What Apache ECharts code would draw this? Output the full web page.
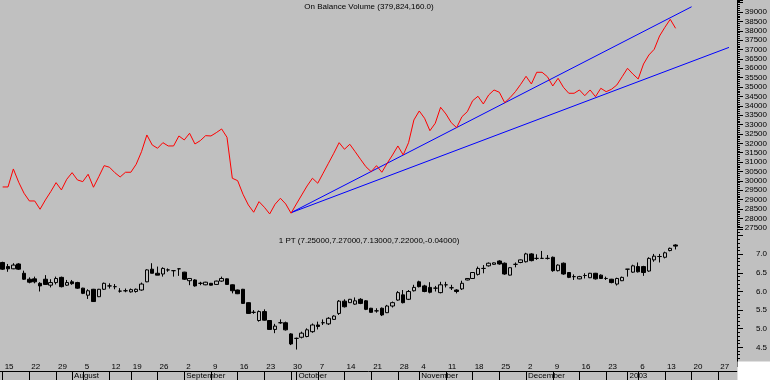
<!DOCTYPE html>
<html><head><meta charset="utf-8">
<script src="https://cdn.jsdelivr.net/npm/echarts@6/dist/echarts.min.js"></script>
<style>html,body{margin:0;padding:0;background:#c0c0c0}#c{width:770px;height:380px}</style>
</head><body><div id="c"></div>
<script>
const categories = [
'2002-07-15','2002-07-16','2002-07-17','2002-07-18','2002-07-19',
'2002-07-22','2002-07-23','2002-07-24','2002-07-25','2002-07-26',
'2002-07-29','2002-07-30','2002-07-31','2002-08-01','2002-08-02',
'2002-08-05','2002-08-06','2002-08-07','2002-08-08','2002-08-09',
'2002-08-12','2002-08-13','2002-08-14','2002-08-15',
'2002-08-19','2002-08-20','2002-08-21','2002-08-22','2002-08-23',
'2002-08-26','2002-08-27','2002-08-28','2002-08-29','2002-08-30',
'2002-09-02','2002-09-03','2002-09-04','2002-09-05','2002-09-06',
'2002-09-09','2002-09-10','2002-09-11','2002-09-12','2002-09-13',
'2002-09-16','2002-09-17','2002-09-18','2002-09-19','2002-09-20',
'2002-09-23','2002-09-24','2002-09-25','2002-09-26','2002-09-27',
'2002-09-30','2002-10-01','2002-10-02','2002-10-03','2002-10-04',
'2002-10-07','2002-10-08','2002-10-09','2002-10-10','2002-10-11',
'2002-10-14','2002-10-15','2002-10-16','2002-10-17','2002-10-18',
'2002-10-21','2002-10-22','2002-10-23','2002-10-24','2002-10-25',
'2002-10-28','2002-10-29','2002-10-30','2002-10-31',
'2002-11-04','2002-11-05','2002-11-06','2002-11-07','2002-11-08',
'2002-11-11','2002-11-12','2002-11-13','2002-11-14','2002-11-15',
'2002-11-18','2002-11-19','2002-11-20','2002-11-21','2002-11-22',
'2002-11-25','2002-11-26','2002-11-27','2002-11-28','2002-11-29',
'2002-12-02','2002-12-03','2002-12-04','2002-12-05','2002-12-06',
'2002-12-09','2002-12-10','2002-12-11','2002-12-12','2002-12-13',
'2002-12-16','2002-12-17','2002-12-18','2002-12-19','2002-12-20',
'2002-12-23','2002-12-24','2002-12-26','2002-12-27',
'2003-01-02','2003-01-03',
'2003-01-06','2003-01-07','2003-01-08','2003-01-09','2003-01-10',
'2003-01-13','2003-01-14','2003-01-15','2003-01-16','2003-01-17',
'2003-01-20','2003-01-21','2003-01-22','2003-01-23','2003-01-24',
'2003-01-27','2003-01-28','2003-01-29','2003-01-30'
];
const monthLabels = {'08':'August','09':'September','10':'October','11':'November','12':'December','01':'2003'};

// On Balance Volume (units of 10,000)
const obv = [
29672,29672,30632,29923,29337,28926,28926,28484,28980,29422,
29902,29513,30083,30435,30046,29955,30349,29657,30221,30808,
30723,30435,30205,30456,30456,30882,31554,32444,31911,31735,
32034,31858,31858,32391,32178,32535,31964,32140,32407,32391,
32567,32764,32322,30136,30008,29283,28713,28324,28889,28591,
28233,28750,29070,28766,28271,28766,29246,29726,30136,29870,
30403,30936,31469,32034,31682,31948,31554,31149,30754,30488,
30808,30456,30936,31378,31858,31378,32034,33244,33723,33334,
32673,33068,33921,33563,33100,32833,33419,33686,34272,34507,
34096,34576,34843,34720,34166,34432,34752,35146,35573,35162,
35786,35786,35551,35056,35466,34987,34667,34667,34843,34539,
34843,34485,34933,34752,34880,35109,35551,35999,35695,35429,
36228,36708,37012,37721,38185,38611,38131
];
const trendUpper = [[54, 28300], [129, 39280]];
const trendLower = [[54, 28300], [136, 37113]];

const opens = [
6.78,6.67,6.61,6.74,6.49,6.33,6.34,6.22,6.33,6.17,
6.24,6.38,6.17,6.26,6.24,6.09,5.90,6.06,5.86,6.06,
6.15,6.13,6.01,6.02,5.99,6.00,6.04,6.26,6.60,6.49,
6.47,6.58,6.56,6.61,6.52,6.29,6.31,6.22,6.18,6.22,
6.19,6.28,6.34,6.18,6.04,6.06,5.70,5.44,5.22,5.46,
5.22,4.98,5.16,5.16,4.86,4.74,4.77,4.79,4.92,5.10,
5.16,5.13,5.25,5.41,5.74,5.70,5.66,5.79,5.75,5.55,
5.48,5.55,5.43,5.61,5.77,5.91,5.79,6.02,6.26,6.15,
6.11,6.09,5.97,6.18,6.10,6.04,6.07,6.31,6.35,6.46,
6.62,6.69,6.73,6.82,6.76,6.44,6.73,6.78,6.80,7.01,
6.89,6.89,6.89,6.92,6.56,6.76,6.51,6.40,6.34,6.43,
6.37,6.49,6.44,6.35,6.33,6.20,6.29,6.60,6.52,6.67,
6.67,6.55,6.85,6.94,6.92,7.10,7.25
];
const highs = [
6.80,6.74,6.76,6.76,6.56,6.38,6.40,6.25,6.44,6.33,
6.40,6.40,6.31,6.31,6.26,6.10,6.06,6.07,6.07,6.24,
6.22,6.20,6.09,6.08,6.08,6.08,6.24,6.60,6.76,6.67,
6.65,6.62,6.56,6.61,6.53,6.35,6.33,6.26,6.26,6.23,
6.29,6.40,6.35,6.19,6.05,6.07,5.71,5.50,5.49,5.52,
5.23,5.13,5.25,5.19,4.88,4.76,4.92,5.01,5.14,5.19,
5.25,5.31,5.36,5.77,5.79,5.80,5.84,5.82,5.77,5.56,
5.55,5.57,5.64,5.73,6.01,6.04,6.04,6.18,6.29,6.18,
6.25,6.15,6.26,6.26,6.18,6.06,6.29,6.36,6.52,6.67,
6.71,6.78,6.78,6.84,6.78,6.65,6.78,6.86,7.04,7.03,
7.00,7.09,6.98,6.94,6.73,6.78,6.52,6.46,6.42,6.49,
6.50,6.50,6.46,6.40,6.34,6.37,6.40,6.60,6.72,6.78,
6.69,6.92,7.01,7.01,7.07,7.18,7.27
];
const lows = [
6.58,6.53,6.60,6.58,6.31,6.22,6.22,6.00,6.18,6.11,
6.19,6.11,6.15,6.18,6.07,5.93,5.80,5.72,5.85,6.04,
6.08,6.06,5.97,5.98,5.97,5.97,6.02,6.25,6.49,6.44,
6.40,6.53,6.40,6.42,6.31,6.17,6.13,6.17,6.17,6.16,
6.18,6.26,6.18,5.95,5.93,5.67,5.40,5.40,5.19,5.22,
4.97,4.88,5.13,4.95,4.56,4.44,4.74,4.77,4.89,4.98,
5.10,5.10,5.24,5.37,5.57,5.69,5.64,5.66,5.50,5.43,
5.43,5.34,5.42,5.57,5.75,5.68,5.77,6.00,6.11,5.98,
5.95,6.00,5.95,6.11,6.04,5.95,6.04,6.30,6.34,6.43,
6.49,6.67,6.72,6.72,6.45,6.43,6.65,6.76,6.78,6.81,
6.85,6.89,6.86,6.53,6.54,6.45,6.36,6.31,6.33,6.35,
6.36,6.32,6.34,6.31,6.22,6.16,6.28,6.40,6.50,6.51,
6.42,6.53,6.80,6.78,6.89,7.08,7.13
];
const closes = [
6.60,6.61,6.71,6.60,6.33,6.25,6.26,6.15,6.19,6.24,
6.35,6.13,6.24,6.21,6.09,5.95,6.02,5.73,6.06,6.22,
6.15,6.13,6.01,6.02,6.05,6.06,6.20,6.58,6.49,6.44,
6.62,6.58,6.56,6.61,6.33,6.35,6.15,6.22,6.25,6.17,
6.28,6.35,6.19,6.02,5.94,5.68,5.41,5.44,5.46,5.23,
4.98,5.07,5.16,4.97,4.59,4.74,4.88,4.97,5.10,5.06,
5.16,5.28,5.34,5.74,5.59,5.79,5.75,5.68,5.52,5.44,
5.48,5.37,5.61,5.70,5.97,5.70,6.00,6.11,6.13,6.00,
5.98,6.09,6.18,6.18,6.10,6.00,6.22,6.35,6.51,6.62,
6.62,6.76,6.77,6.74,6.47,6.64,6.73,6.85,7.01,6.83,
6.89,6.89,6.89,6.56,6.71,6.47,6.38,6.40,6.40,6.43,
6.49,6.34,6.35,6.35,6.24,6.35,6.38,6.60,6.69,6.53,
6.51,6.89,6.95,6.94,7.04,7.16,7.22
];

const candleData = opens.map((o, i) => [o, closes[i], lows[i], highs[i]]);
const isMonday = i => new Date(categories[i] + 'T00:00:00Z').getUTCDay() === 1;
const isMonthStart = i => i > 0 && categories[i].slice(5, 7) !== categories[i - 1].slice(5, 7);

const FONT = 'Liberation Sans, Arial, sans-serif';
const black = '#000';
const chart = echarts.init(document.getElementById('c'), null, {renderer: 'canvas'});
const yBase = {
  type: 'value', position: 'right', scale: true,
  axisLine: {show: true, lineStyle: {color: black, width: 1}},
  axisTick: {show: true, length: 6, lineStyle: {color: black}},
  minorTick: {show: true, splitNumber: 5, length: 3, lineStyle: {color: black}},
  splitLine: {show: false},
  axisLabel: {color: black, fontSize: 8, fontFamily: FONT, align: 'right', margin: 30, showMaxLabel: false}
};
chart.setOption({
  animation: false,
  backgroundColor: '#c0c0c0',
  textStyle: {fontFamily: FONT},
  title: [
    {text: 'On Balance Volume (379,824,160.0)', left: 369, top: 3, padding: 0, textAlign: 'center',
     textStyle: {fontSize: 8, fontWeight: 'normal', color: black, fontFamily: FONT}},
    {text: '1 PT (7.25000,7.27000,7.13000,7.22000,-0.04000)', left: 369, top: 237, padding: 0, textAlign: 'center',
     textStyle: {fontSize: 8, fontWeight: 'normal', color: black, fontFamily: FONT}}
  ],
  grid: [
    {left: 0, width: 737, top: 0, height: 227.7},
    {left: 0, width: 737, top: 229, height: 136.9},
    {left: 0, width: 737, top: 361, height: 10},
    {left: 0, width: 737, top: 371, height: 9}
  ],
  xAxis: [
    {type: 'category', gridIndex: 0, data: categories, show: false, boundaryGap: true},
    {type: 'category', gridIndex: 1, data: categories, show: false, boundaryGap: true},
    {type: 'category', gridIndex: 2, data: categories, position: 'top', boundaryGap: true,
     axisLine: {show: true, lineStyle: {color: black, width: 1}},
     axisTick: {show: true, inside: true, length: 10, alignWithLabel: true, interval: (i) => isMonday(i) || isMonthStart(i), lineStyle: {color: black}},
     axisLabel: {show: true, inside: true, interval: (i) => isMonday(i), align: 'left', verticalAlign: 'top', margin: 2, padding: [0, 0, 0, 2],
       color: black, fontSize: 8, fontFamily: FONT, formatter: (v) => String(parseInt(v.slice(8, 10), 10))},
     splitLine: {show: false}},
    {type: 'category', gridIndex: 3, data: categories, position: 'top', boundaryGap: true,
     axisLine: {show: true, lineStyle: {color: black, width: 1}},
     axisTick: {show: true, inside: true, length: 9, alignWithLabel: true, interval: (i) => isMonthStart(i), lineStyle: {color: black}},
     axisLabel: {show: true, inside: true, interval: (i) => isMonthStart(i), align: 'left', verticalAlign: 'top', margin: 1, padding: [0, 0, 0, 2],
       color: black, fontSize: 8, fontFamily: FONT, formatter: (v) => monthLabels[v.slice(5, 7)] || ''},
     splitLine: {show: false}}
  ],
  yAxis: [
    Object.assign({}, yBase, {gridIndex: 0, min: 27500, max: 39640, interval: 500,
      axisLabel: Object.assign({}, yBase.axisLabel, {showMinLabel: true, formatter: (v) => v > 39000 ? '' : String(Math.round(v))})}),
    Object.assign({}, yBase, {gridIndex: 1, min: 4.0, max: 7.68, interval: 0.5,
      axisLabel: Object.assign({}, yBase.axisLabel, {showMinLabel: false, formatter: (v) => v > 7.2 ? '' : v.toFixed(1)})}),
    {type: 'value', gridIndex: 2, show: false},
    {type: 'value', gridIndex: 3, show: false}
  ],
  series: [
    {type: 'line', name: 'OBV', xAxisIndex: 0, yAxisIndex: 0, data: obv, showSymbol: false, symbol: 'none',
     lineStyle: {color: '#ff0000', width: 1}, z: 3},
    {type: 'line', name: 'trend1', xAxisIndex: 0, yAxisIndex: 0, data: trendUpper, showSymbol: false, symbol: 'none',
     lineStyle: {color: '#0000ff', width: 1}, z: 2},
    {type: 'line', name: 'trend2', xAxisIndex: 0, yAxisIndex: 0, data: trendLower, showSymbol: false, symbol: 'none',
     lineStyle: {color: '#0000ff', width: 1}, z: 2},
    {type: 'candlestick', name: 'PT', xAxisIndex: 1, yAxisIndex: 1, data: candleData, barWidth: 4,
     itemStyle: {color: '#c0c0c0', color0: black, borderColor: black, borderColor0: black, borderWidth: 1}}
  ],
  graphic: [
    {type: 'rect', shape: {x: 737.5, y: 361.5, width: 33, height: 19}, style: {fill: '#ffffff'}, z: 10}
  ]
});
</script></body></html>
